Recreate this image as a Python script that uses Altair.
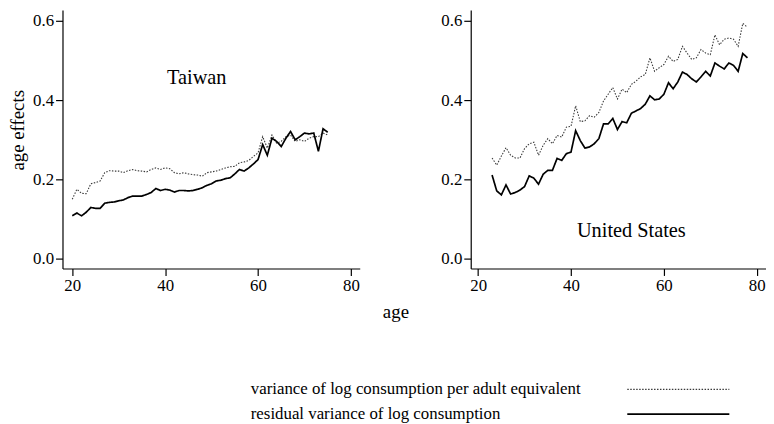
import altair as alt
import pandas as pd

FONT = "Liberation Serif"

series_names = [
    "variance of log consumption per adult equivalent",
    "residual variance of log consumption",
]

# Taiwan, ages 20..75
tw_age = list(range(20, 76))
tw_var = [0.150, 0.175, 0.165, 0.164, 0.189, 0.192, 0.196, 0.217, 0.222, 0.221,
          0.221, 0.217, 0.222, 0.225, 0.222, 0.221, 0.219, 0.225, 0.229, 0.225,
          0.229, 0.227, 0.217, 0.214, 0.217, 0.214, 0.212, 0.211, 0.208, 0.217,
          0.219, 0.221, 0.225, 0.229, 0.232, 0.233, 0.242, 0.244, 0.248, 0.258,
          0.267, 0.308, 0.279, 0.312, 0.292, 0.296, 0.308, 0.312, 0.296, 0.300,
          0.296, 0.304, 0.308, 0.308, 0.317, 0.312]
tw_resid = [0.108, 0.115, 0.108, 0.117, 0.129, 0.127, 0.127, 0.140, 0.142, 0.143,
            0.146, 0.148, 0.154, 0.158, 0.158, 0.158, 0.162, 0.167, 0.177, 0.172,
            0.175, 0.173, 0.168, 0.172, 0.172, 0.171, 0.172, 0.175, 0.179, 0.185,
            0.189, 0.196, 0.198, 0.202, 0.204, 0.214, 0.225, 0.221, 0.229, 0.239,
            0.250, 0.288, 0.261, 0.304, 0.296, 0.283, 0.304, 0.321, 0.300, 0.308,
            0.317, 0.315, 0.317, 0.271, 0.328, 0.319]

# United States, ages 23..78
us_age = list(range(23, 79))
us_var = [0.254, 0.236, 0.259, 0.280, 0.261, 0.254, 0.254, 0.278, 0.290, 0.294,
          0.261, 0.286, 0.303, 0.290, 0.311, 0.307, 0.332, 0.334, 0.386, 0.346,
          0.348, 0.361, 0.357, 0.369, 0.398, 0.415, 0.432, 0.403, 0.428, 0.419,
          0.440, 0.448, 0.459, 0.465, 0.507, 0.473, 0.482, 0.490, 0.511, 0.498,
          0.503, 0.536, 0.519, 0.503, 0.507, 0.528, 0.519, 0.515, 0.565, 0.540,
          0.554, 0.557, 0.554, 0.536, 0.594, 0.584]
us_resid = [0.211, 0.171, 0.161, 0.186, 0.163, 0.167, 0.173, 0.182, 0.209, 0.203,
            0.188, 0.213, 0.223, 0.223, 0.253, 0.248, 0.265, 0.269, 0.323, 0.298,
            0.279, 0.282, 0.290, 0.303, 0.340, 0.340, 0.354, 0.326, 0.346, 0.343,
            0.367, 0.373, 0.379, 0.390, 0.411, 0.401, 0.403, 0.415, 0.444, 0.429,
            0.446, 0.471, 0.465, 0.454, 0.446, 0.459, 0.473, 0.461, 0.494, 0.486,
            0.479, 0.494, 0.488, 0.473, 0.518, 0.507]

x_ticks = [20, 40, 60, 80]
y_ticks = [0.0, 0.2, 0.4, 0.6]


def long_df(ages, var, resid):
    rows = []
    for a, v, r in zip(ages, var, resid):
        rows.append({"age": a, "value": v, "series": series_names[0]})
        rows.append({"age": a, "value": r, "series": series_names[1]})
    return pd.DataFrame(rows)


tw_df = long_df(tw_age, tw_var, tw_resid)
us_df = long_df(us_age, us_var, us_resid)

dash_scale = alt.Scale(domain=series_names, range=[[1.5, 1.5], [1, 0]])
width_scale = alt.Scale(domain=series_names, range=[1.1, 1.7])
color_scale = alt.Scale(domain=series_names, range=["#3a3a3a", "#000000"])

axis_common = dict(
    labelFont=FONT, labelFontSize=17, labelColor="black",
    domainColor="black", domainWidth=1.2, tickColor="black", tickWidth=1.2,
    tickSize=7, labelPadding=2, grid=False,
    titleFont=FONT, titleFontWeight="normal", titleColor="black", titleFontSize=19,
)

Y_DOMAIN = [-0.025, 0.628]


def panel(df, xdomain, width, label, lx, ly, left):
    if left:
        xaxis = alt.Axis(values=x_ticks, title="age", titleX=336, titleY=34,
                         titleAlign="center", **axis_common)
        yaxis = alt.Axis(values=y_ticks, format=".1f", title="age effects",
                         titlePadding=5, titleY=121, **axis_common)
    else:
        xaxis = alt.Axis(values=x_ticks, title=None, **axis_common)
        yaxis = alt.Axis(values=y_ticks, format=".1f", title=None, **axis_common)
    lines = alt.Chart(df).mark_line().encode(
        x=alt.X("age:Q", scale=alt.Scale(domain=xdomain, nice=False, zero=False), axis=xaxis),
        y=alt.Y("value:Q", scale=alt.Scale(domain=Y_DOMAIN, nice=False, zero=False), axis=yaxis),
        strokeDash=alt.StrokeDash("series:N", scale=dash_scale, legend=None),
        strokeWidth=alt.StrokeWidth("series:N", scale=width_scale, legend=None),
        color=alt.Color("series:N", scale=color_scale, legend=None),
    )
    lab = alt.Chart(pd.DataFrame({"age": [lx], "value": [ly], "t": [label]})).mark_text(
        font=FONT, fontSize=20.5, color="black", align="center", baseline="middle"
    ).encode(x="age:Q", y="value:Q", text="t:N")
    return alt.layer(lines, lab).properties(width=width, height=261)


left = panel(tw_df, [17.9, 81.9], 300, "Taiwan", 46.8, 0.456, True)
right = panel(us_df, [18.4, 82.0], 298, "United States", 53.0, 0.07, False)

top = alt.hconcat(left, right, spacing=31)

leg_df = pd.DataFrame({"series": series_names})
leg_y = alt.Y("series:N", sort=series_names, axis=None,
              scale=alt.Scale(type="point", range=[4, 29], padding=0))
leg_text = alt.Chart(leg_df).mark_text(
    font=FONT, fontSize=17, color="black", align="left", baseline="middle"
).encode(x=alt.value(190), y=leg_y, text="series:N")
leg_rule = alt.Chart(leg_df).mark_rule().encode(
    x=alt.value(570), x2=alt.value(673), y=leg_y,
    strokeDash=alt.StrokeDash("series:N", scale=dash_scale, legend=None),
    strokeWidth=alt.StrokeWidth("series:N", scale=width_scale, legend=None),
    color=alt.Color("series:N", scale=color_scale, legend=None),
)
legend = alt.layer(leg_text, leg_rule).properties(width=680, height=30)

chart = alt.vconcat(top, legend, spacing=60).properties(
    padding=0, background="white"
).configure_view(stroke=None)

chart.save("out.html", embed_options={"renderer": "svg", "actions": False})
